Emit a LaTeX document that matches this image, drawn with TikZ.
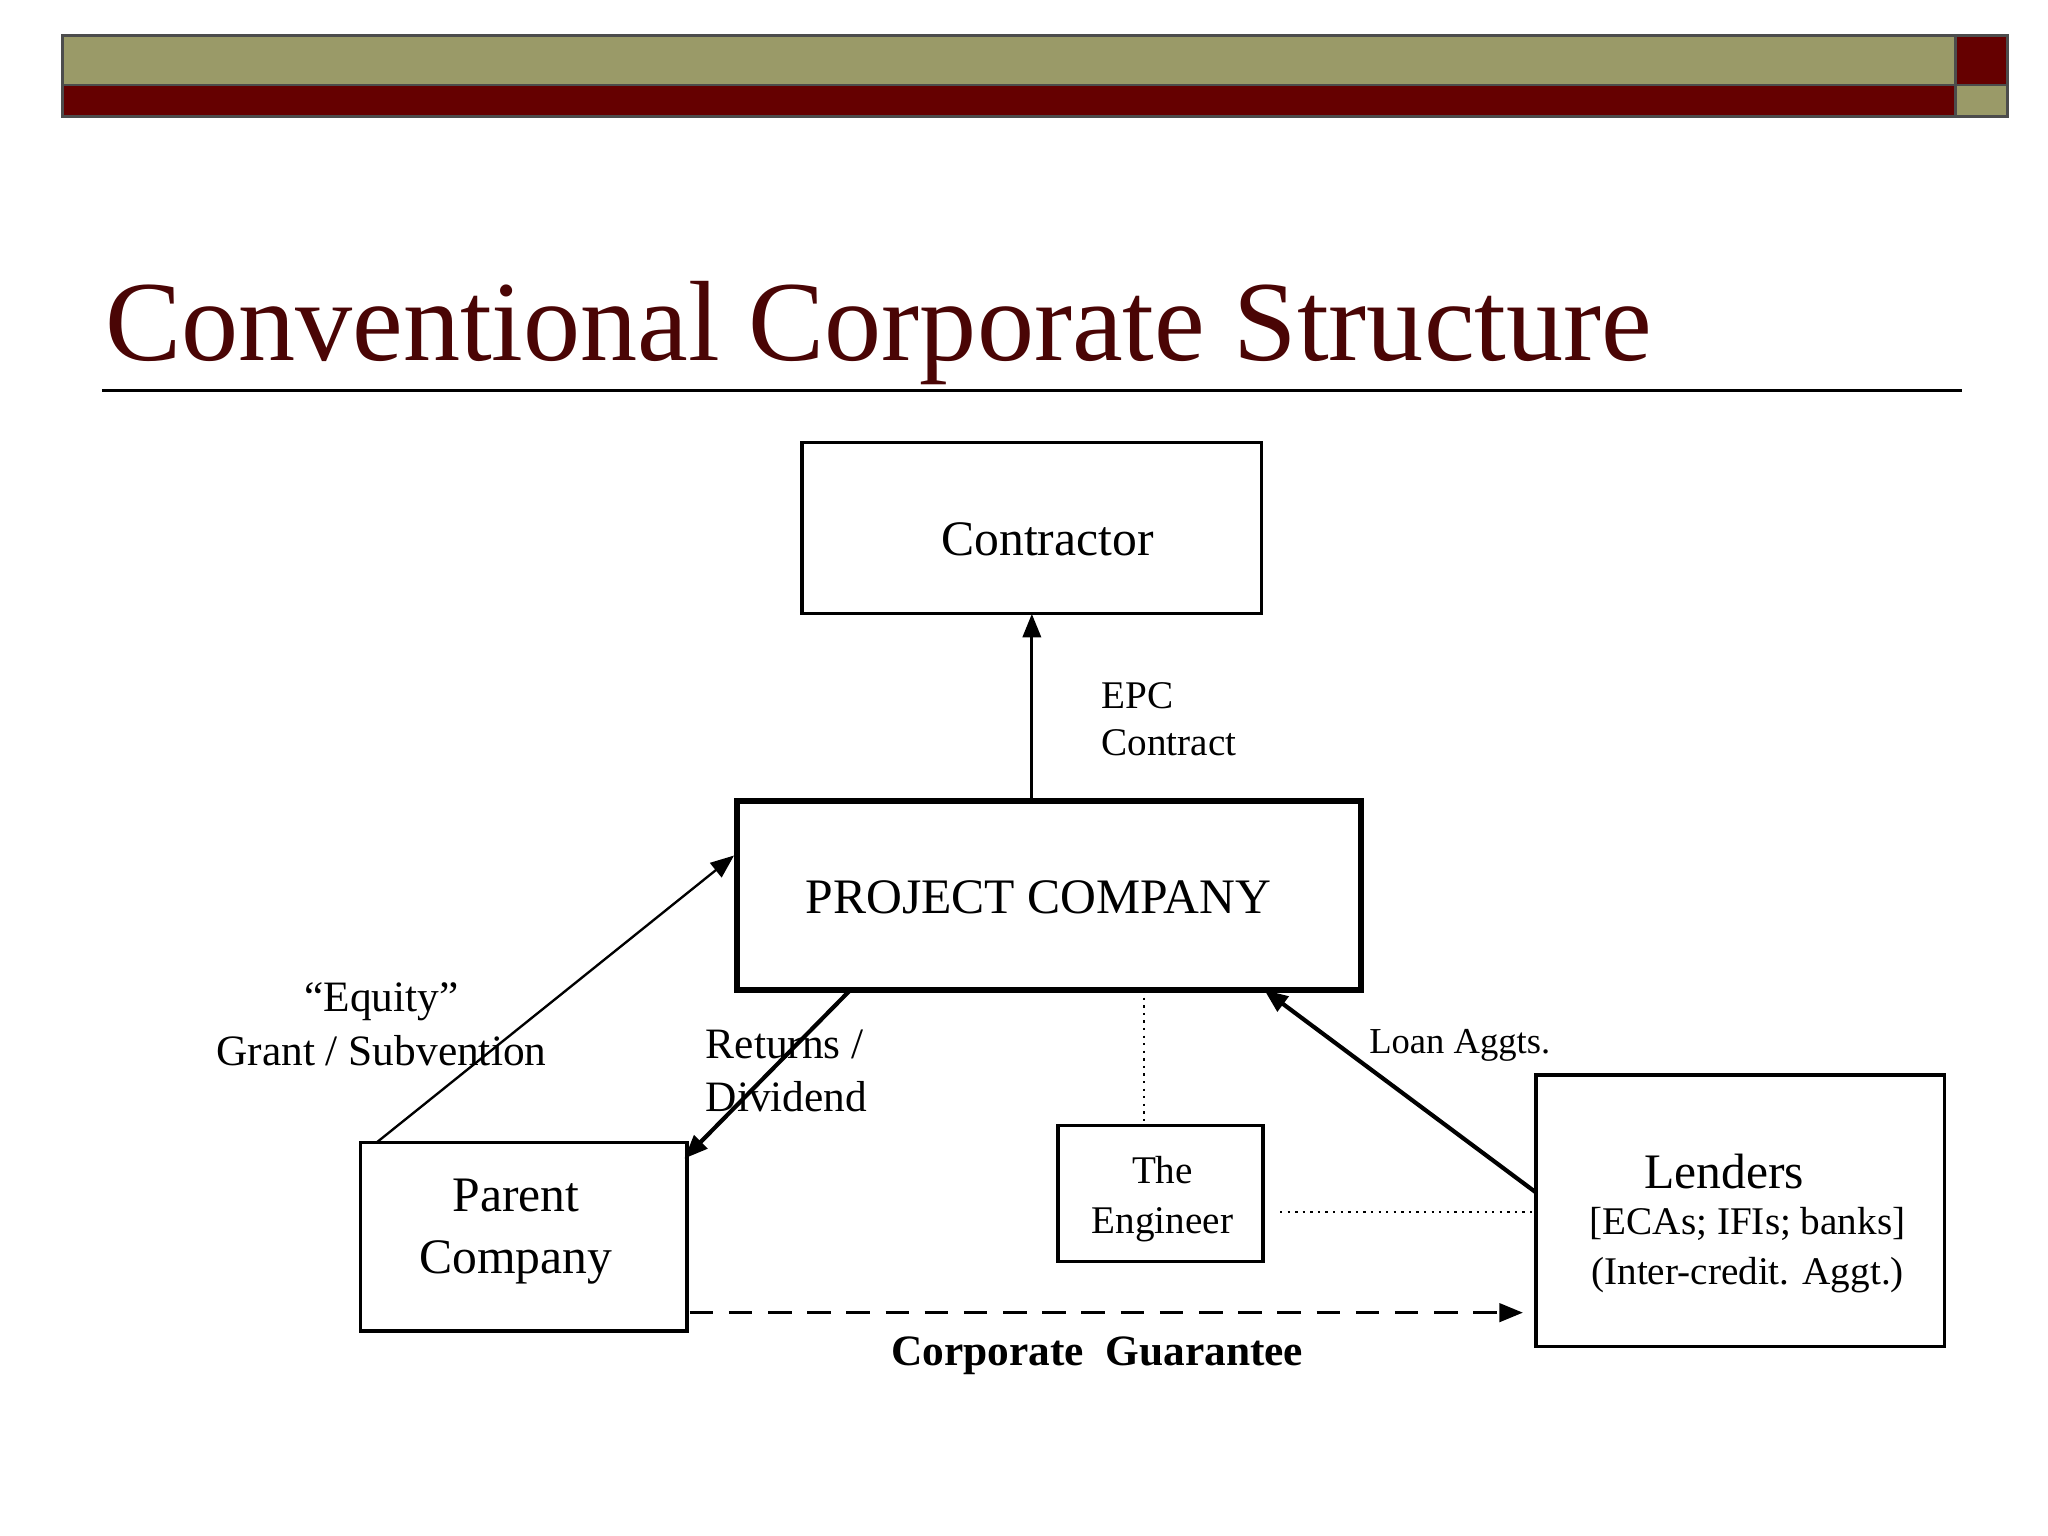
\documentclass[tikz,border=0pt]{standalone}
\usepackage{fontspec}
\setmainfont{Liberation Serif}
\usetikzlibrary{arrows.meta}
\definecolor{olive}{HTML}{9A9A68}
\definecolor{dred}{HTML}{650000}
\definecolor{tred}{HTML}{4A0505}
\begin{document}
\begin{tikzpicture}[x=0.5pt,y=-0.5pt,
 box/.style={draw,line width=1.2pt,inner sep=0pt},
 lbl/.style={inner sep=0pt,font=\fontsize{16.6}{20.5}\selectfont,align=left},
 arr/.style={-{Triangle[length=9pt,width=7pt]},line width=1.1pt}]
\useasboundingbox (0,0) rectangle (1568,1176);
\fill[white] (0,0) rectangle (1568,1176);
\filldraw[fill=olive,draw=black!70,line width=1pt] (48,27) rectangle (1497,65);
\filldraw[fill=dred,draw=black!70,line width=1pt] (48,65) rectangle (1497,89);
\filldraw[fill=dred,draw=black!70,line width=1pt] (1497,27) rectangle (1537,65);
\filldraw[fill=olive,draw=black!70,line width=1pt] (1497,65) rectangle (1537,89);
\node[anchor=base west,inner sep=0pt,text=tred,font=\fontsize{43.7}{50}\selectfont] (title) at (80,276) {Conventional Corporate Structure};
\draw[line width=0.8pt] (78,299) -- (1502,299);
% boxes
\draw[box] (614,339) rectangle (966,470);
\node[lbl,font=\fontsize{19}{22}\selectfont] (con) at (802,413) {Contractor};
\coordinate (conb) at (790,470);
\draw[box,line width=2.2pt] (564,613) rectangle (1042,758);
\node[lbl,font=\fontsize{19}{22}\selectfont] (pc) at (795,687) {PROJECT COMPANY};
\coordinate (pct) at (790,613);
\draw[box] (276,875) rectangle (526,1019);
\node[lbl,align=center,font=\fontsize{19}{24}\selectfont] (par) at (395,943) {Parent\\Company};
\draw[box] (810,862) rectangle (967,966);
\node[lbl,align=center,font=\fontsize{15}{19}\selectfont] (eng) at (890,918) {The\\Engineer};
\draw[box] (1176,823) rectangle (1489,1031);
\node[lbl,font=\fontsize{19}{22}\selectfont] (len) at (1320,897) {Lenders};
\node[lbl,align=center,font=\fontsize{15}{19}\selectfont] (len2) at (1338,957) {[ECAs; IFIs; banks]\\(Inter-credit. Aggt.)};
% connectors
\draw[arr] (pct) -- (conb);
\node[lbl,font=\fontsize{15}{18}\selectfont,anchor=west] (epc) at (843,551) {EPC\\Contract};
\coordinate (e1) at (288,875); \coordinate (e2) at (562,655);
\draw[arr,line width=0.9pt] (e1) -- (e2);
\node[lbl,align=center] (eq) at (292,784) {“Equity”\\Grant / Subvention};
\coordinate (r1) at (651,758); \coordinate (r2) at (524,887);
\draw[arr,line width=1.6pt] (r1) -- (r2);
\node[lbl,anchor=west] (ret) at (540,820) {Returns /\\Dividend};
\draw[dotted,line width=0.9pt] (876,758) -- (876,862);
\draw[dotted,line width=0.9pt] (980,928) -- (1176,928);
\coordinate (l1) at (1176,913); \coordinate (l2) at (968,758);
\draw[arr,line width=1.6pt] (l1) -- (l2);
\node[lbl,anchor=west,font=\fontsize{14}{17}\selectfont] (loan) at (1048,800) {Loan Aggts.};
\coordinate (g1) at (528,1005); \coordinate (g2) at (1166,1005);
\draw[arr,dashed,dash pattern=on 9pt off 6pt,line width=1.3pt] (g1) -- (g2);
\node[lbl,font=\fontsize{16.6}{20}\selectfont\bfseries] (cg) at (840,1038) {Corporate\ \ Guarantee};
\end{tikzpicture}
\end{document}
